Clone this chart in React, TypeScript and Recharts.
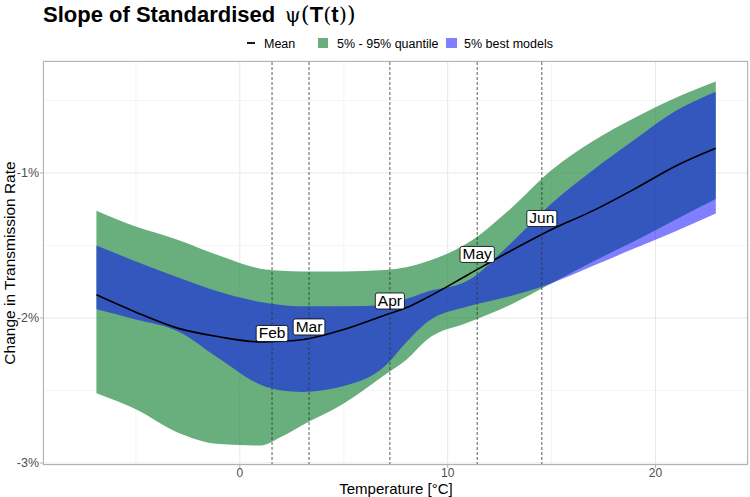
import React from 'react';
import { ComposedChart, Area, Line, XAxis, YAxis, CartesianGrid, ReferenceLine, ReferenceDot } from 'recharts';

// temperature grid (°C) and the curves (% change)
const temps = [-6.9, -5, -3, -1, 1, 2, 3, 5, 7, 8, 9, 11, 13, 15, 17, 19, 21, 22.9];
const meanSlope = [-1.84, -1.96, -2.07, -2.13, -2.165, -2.16, -2.15, -2.08, -1.98, -1.93, -1.86, -1.7, -1.54, -1.39, -1.26, -1.11, -0.95, -0.83];
const quantHigh = [-1.26, -1.37, -1.46, -1.57, -1.66, -1.675, -1.68, -1.68, -1.67, -1.65, -1.61, -1.48, -1.25, -0.98, -0.78, -0.62, -0.48, -0.37];
const quantLow = [-2.52, -2.63, -2.79, -2.87, -2.88, -2.82, -2.74, -2.59, -2.39, -2.29, -2.15, -2.03, -1.91, -1.76, -1.61, -1.47, -1.32, -1.18];
const bestHigh = [-1.5, -1.61, -1.72, -1.82, -1.89, -1.91, -1.92, -1.92, -1.91, -1.87, -1.82, -1.74, -1.49, -1.21, -0.98, -0.77, -0.57, -0.44];
const bestLow = [-1.94, -2.01, -2.09, -2.28, -2.46, -2.5, -2.51, -2.47, -2.33, -2.17, -2.03, -1.92, -1.85, -1.76, -1.64, -1.52, -1.4, -1.28];

// monthly mean temperatures with their tags
const months = ['Feb', 'Mar', 'Apr', 'May', 'Jun'];
const monthTemps = [1.55, 3.33, 7.22, 11.42, 14.53];
const monthTagY = [-2.107, -2.062, -1.883, -1.562, -1.314];

const xTicks = [0, 10, 20];
const xMinor = [-5, 5, 15];
const yTicks = [-3, -2, -1];
const yMinor = [-2.5, -1.5, -0.5];

const X_DOMAIN: [number, number] = [-9.47, 24.45];
const Y_DOMAIN: [number, number] = [-3.014, -0.228];

const data = temps.map((t, i) => ({
  x: t,
  mean: meanSlope[i],
  quant: [quantLow[i], quantHigh[i]],
  best: [bestLow[i], bestHigh[i]],
}));

const FONT = "'Liberation Sans', Arial, Helvetica, sans-serif";
const SERIF = "'DejaVu Serif', 'Liberation Serif', serif";

let ctx: CanvasRenderingContext2D | null = null;
function textWidth(s: string, font: string) {
  if (!ctx && typeof document !== 'undefined') ctx = document.createElement('canvas').getContext('2d');
  if (!ctx) return s.length * 8;
  ctx.font = font;
  return ctx.measureText(s).width;
}

function MonthTag(props: any) {
  const { cx, cy, text } = props;
  if (cx == null || cy == null) return null;
  const w = textWidth(text, `15.5px 'Liberation Sans'`) + 5;
  const h = 16;
  return (
    <g>
      <rect x={cx - w / 2} y={cy - h / 2} width={w} height={h} rx={2} fill="#fff" stroke="#000" strokeWidth={0.8} />
      <text x={cx} y={cy + 5} textAnchor="middle" fontSize={15.5} fontFamily={FONT} fill="#000">
        {text}
      </text>
    </g>
  );
}

const minorV = ({ offset }: any) =>
  xMinor.map((v) => offset.left + ((v - X_DOMAIN[0]) / (X_DOMAIN[1] - X_DOMAIN[0])) * offset.width);
const minorH = ({ offset }: any) =>
  yMinor.map((v) => offset.top + ((Y_DOMAIN[1] - v) / (Y_DOMAIN[1] - Y_DOMAIN[0])) * offset.height);

export default function App() {
  return (
    <div style={{ position: 'absolute', left: 0, top: 0, width: 750, height: 497, background: '#fff', fontFamily: FONT }}>
      <ComposedChart width={750} height={497} data={data} margin={{ top: 61, right: 2, bottom: 0, left: 0 }}>
        <CartesianGrid stroke="#f3f3f3" strokeWidth={0.8} horizontalCoordinatesGenerator={minorH} verticalCoordinatesGenerator={minorV} />
        <CartesianGrid stroke="#e8e8e8" strokeWidth={1} />
        <XAxis
          type="number"
          dataKey="x"
          domain={X_DOMAIN}
          ticks={xTicks}
          allowDataOverflow
          height={32}
          tickSize={3}
          tickMargin={0}
          axisLine={false}
          tickLine={{ stroke: '#b3b3b3' }}
          tick={{ fill: '#4d4d4d', fontSize: 12, fontFamily: FONT }}
        />
        <YAxis
          type="number"
          domain={Y_DOMAIN}
          ticks={yTicks}
          allowDataOverflow
          width={43}
          tickSize={3}
          tickMargin={1}
          axisLine={false}
          tickLine={{ stroke: '#b3b3b3' }}
          tickFormatter={(v: number) => `${v}%`}
          tick={{ fill: '#4d4d4d', fontSize: 12.5, fontFamily: FONT }}
        />
        <Area type="monotone" dataKey="quant" fill="#2a8b46" fillOpacity={0.7} stroke="none" isAnimationActive={false} />
        <Area type="monotone" dataKey="best" fill="#0000ff" fillOpacity={0.5} stroke="none" isAnimationActive={false} />
        <Line type="monotone" dataKey="mean" stroke="#000" strokeWidth={1.6} dot={false} isAnimationActive={false} />
        {monthTemps.map((t) => (
          <ReferenceLine key={t} x={t} stroke="#333" strokeWidth={0.8} strokeDasharray="3 2" />
        ))}
        {months.map((m, i) => (
          <ReferenceDot key={m} x={monthTemps[i]} y={monthTagY[i]} r={0} shape={(p: any) => <MonthTag {...p} text={m} />} />
        ))}
      </ComposedChart>
      <svg width={750} height={497} style={{ position: 'absolute', left: 0, top: 0, pointerEvents: 'none' }}>
        <rect x={43.5} y={61.5} width={704} height={403} fill="none" stroke="#b3b3b3" strokeWidth={1} />
        <text x={43} y={21.5} fontSize={22} fontWeight="bold" fontFamily={FONT} fill="#000">
          Slope of Standardised
        </text>
        <text x={285} y={21.5} fill="#000">
          <tspan fontFamily={SERIF} fontSize={20}>ψ</tspan>
          <tspan fontFamily={SERIF} fontSize={23}>(</tspan>
          <tspan fontFamily={FONT} fontSize={22} fontWeight="bold">T</tspan>
          <tspan fontFamily={SERIF} fontSize={21}>(</tspan>
          <tspan fontFamily={FONT} fontSize={22} fontWeight="bold">t</tspan>
          <tspan fontFamily={SERIF} fontSize={21}>)</tspan>
          <tspan fontFamily={SERIF} fontSize={23}>)</tspan>
        </text>
        <line x1={247} x2={255} y1={43} y2={43} stroke="#000" strokeWidth={1.8} />
        <text x={264} y={47.5} fontSize={12.5} fontFamily={FONT} fill="#000">Mean</text>
        <rect x={318} y={38} width={10} height={10} fill="#2a8b46" fillOpacity={0.7} />
        <text x={337} y={47.5} fontSize={12.5} fontFamily={FONT} fill="#000">5% - 95% quantile</text>
        <rect x={446} y={38} width={11} height={10} fill="#0000ff" fillOpacity={0.5} />
        <text x={464} y={47.5} fontSize={12.5} fontFamily={FONT} fill="#000">5% best models</text>
        <text x={396} y={494} textAnchor="middle" fontSize={15} fontFamily={FONT} fill="#000">
          Temperature [°C]
        </text>
        <text x={14.5} y={263} textAnchor="middle" fontSize={15.5} fontFamily={FONT} fill="#000" transform="rotate(-90, 14.5, 263)">
          Change in Transmission Rate
        </text>
      </svg>
    </div>
  );
}
